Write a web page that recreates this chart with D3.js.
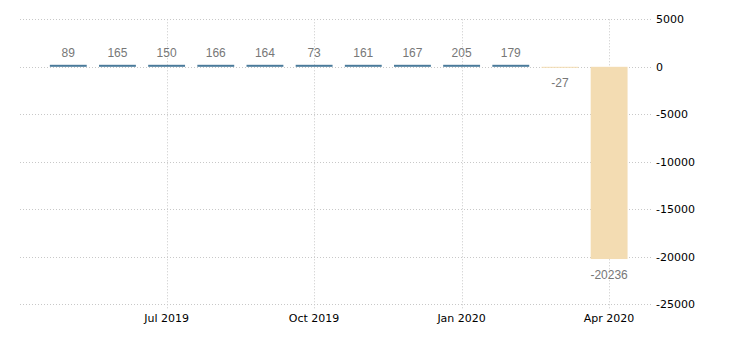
<!DOCTYPE html>
<html>
<head>
<meta charset="utf-8">
<script src="https://cdn.jsdelivr.net/npm/d3@7"></script>
<style>
  body { margin: 0; background: #fff; }
  svg text { font-family: "DejaVu Sans", Verdana, sans-serif; }
</style>
</head>
<body>
<div id="chart"></div>
<script>
// months shown, one bar each
const months = ["2019-05", "2019-06", "2019-07", "2019-08", "2019-09", "2019-10",
    "2019-11", "2019-12", "2020-01", "2020-02", "2020-03", "2020-04"];
const values = [89, 165, 150, 166, 164, 73, 161, 167, 205, 179, -27, -20236];
const yTicks = [5000, 0, -5000, -10000, -15000, -20000, -25000];
const xTickMonths = ["2019-07", "2019-10", "2020-01", "2020-04"];
const xTickLabels = ["Jul 2019", "Oct 2019", "Jan 2020", "Apr 2020"];

const width = 730;
const height = 340;
const gridLeft = 20;
const gridRight = 652;

const svg = d3.select("#chart").append("svg")
    .attr("width", width)
    .attr("height", height);

// x band scale
const x = d3.scaleBand()
    .domain(months)
    .range([43.7, 633.7])
    .paddingInner(0.25)
    .paddingOuter(0.125);

// y linear scale
const y = d3.scaleLinear()
    .domain([-25000, 5000])
    .range([304.3, 19.3]);

// horizontal gridlines
svg.append("g")
    .selectAll("line")
    .data(yTicks)
    .join("line")
    .attr("x1", gridLeft)
    .attr("x2", gridRight)
    .attr("y1", d => Math.round(y(d)) + 0.5)
    .attr("y2", d => Math.round(y(d)) + 0.5)
    .attr("stroke", "#c8c8c8")
    .attr("stroke-dasharray", "1,2");

// vertical gridlines
svg.append("g")
    .selectAll("line")
    .data(xTickMonths)
    .join("line")
    .attr("x1", d => Math.round(x(d) + x.bandwidth() / 2) + 0.5)
    .attr("x2", d => Math.round(x(d) + x.bandwidth() / 2) + 0.5)
    .attr("y1", y(5000))
    .attr("y2", y(-25000) + 5)
    .attr("stroke", "#c8c8c8")
    .attr("stroke-dasharray", "1,2");

// bars
svg.append("g")
    .selectAll("rect")
    .data(values)
    .join("rect")
    .attr("x", (d, i) => x(months[i]))
    .attr("width", x.bandwidth())
    .attr("y", d => d >= 0 ? y(0) - Math.max(y(0) - y(d), 2) : y(0))
    .attr("height", d => Math.max(Math.abs(y(d) - y(0)), d >= 0 ? 2 : 1))
    .attr("fill", d => d >= 0 ? "#4a7b9b" : "#f3dcb2");

// value labels
svg.append("g")
    .selectAll("text")
    .data(values)
    .join("text")
    .attr("x", (d, i) => x(months[i]) + x.bandwidth() / 2)
    .attr("y", d => d >= 0 ? y(0) - 10 : y(d) + 20)
    .attr("text-anchor", "middle")
    .attr("fill", "#777")
    .style("font-family", "'Liberation Sans', Arial, sans-serif")
    .style("font-size", "12px")
    .text(d => d);

// y axis labels (right side)
svg.append("g")
    .selectAll("text")
    .data(yTicks)
    .join("text")
    .attr("x", 656)
    .attr("y", d => y(d) + 4)
    .attr("fill", "#000")
    .style("font-size", "11px")
    .text(d => d);

// x axis labels
svg.append("g")
    .selectAll("text")
    .data(xTickMonths)
    .join("text")
    .attr("x", d => x(d) + x.bandwidth() / 2)
    .attr("y", 322)
    .attr("text-anchor", "middle")
    .attr("fill", "#000")
    .style("font-size", "11px")
    .text((d, i) => xTickLabels[i]);
</script>
</body>
</html>
